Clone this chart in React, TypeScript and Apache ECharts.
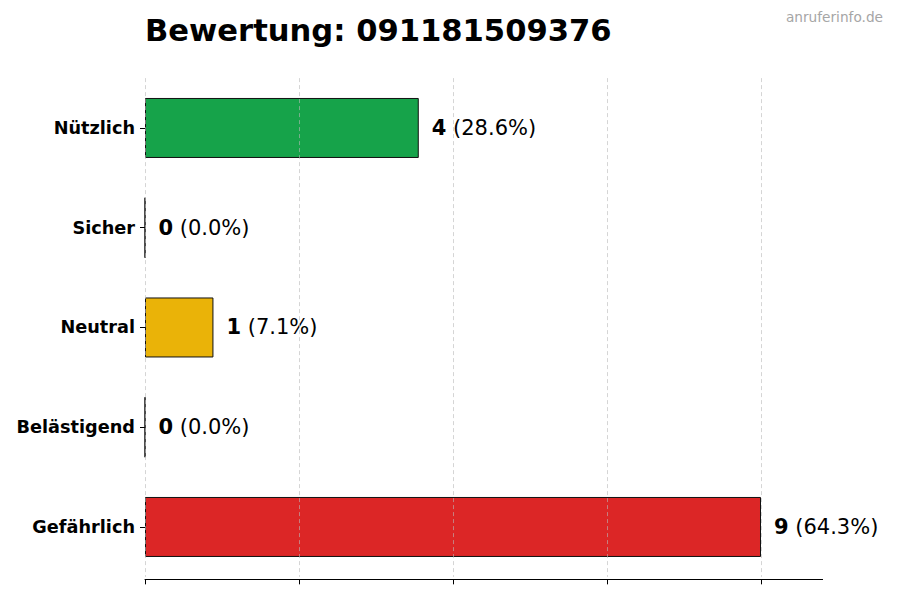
import React, { useEffect, useRef } from "react";
import * as echarts from "echarts";

const categories = ["Nützlich", "Sicher", "Neutral", "Belästigend", "Gefährlich"];
const counts = [4, 0, 1, 0, 9];
const percents = ["28.6%", "0.0%", "7.1%", "0.0%", "64.3%"];
const barColors = ["#16a34a", "#16a34a", "#eab308", "#f97316", "#dc2626"];
const gridTicks = [0, 2.25, 4.5, 6.75, 9];
const titleText = "Bewertung: 091181509376";
const watermark = "anruferinfo.de";

const FONT = "'DejaVu Sans', sans-serif";

export default function App() {
  const ref = useRef<HTMLDivElement>(null);
  useEffect(() => {
    if (!ref.current) return;
    const chart = echarts.init(ref.current, null, { renderer: "svg" });
    chart.setOption({
      animation: false,
      backgroundColor: "#ffffff",
      title: {
        text: titleText,
        left: 145,
        top: 15,
        padding: 0,
        textStyle: { fontFamily: FONT, fontSize: 30.6, fontWeight: "bold", color: "#000" },
      },
      graphic: [
        {
          type: "text",
          right: 17,
          top: 10,
          style: { text: watermark, fontFamily: FONT, fontSize: 13.7, fill: "#a6a6a6" },
        },
      ],
      grid: { left: 145, right: 77.4, top: 78.1, height: 498.75, containLabel: false },
      xAxis: {
        type: "value",
        min: 0,
        max: 9.9,
        interval: 2.25,
        offset: 2.5,
        axisLine: { show: true, lineStyle: { color: "#000", width: 1 } },
        axisTick: { show: true, length: 5, customValues: gridTicks, lineStyle: { color: "#000" } },
        axisLabel: { show: false },
        splitLine: { show: false },
      },
      yAxis: {
        type: "category",
        data: categories,
        inverse: true,
        axisLine: { show: false },
        axisTick: { show: true, length: 5, alignWithLabel: true, lineStyle: { color: "#000" } },
        axisLabel: {
          margin: 10,
          fontFamily: FONT,
          fontSize: 17.7,
          fontWeight: "bold",
          color: "#000",
        },
        splitLine: { show: false },
      },
      series: [
        {
          type: "bar",
          barWidth: 60,
          data: counts.map((v, i) => ({
            value: v,
            itemStyle: { color: barColors[i], borderColor: "#111", borderWidth: 1 },
          })),
          label: {
            show: true,
            position: "right",
            distance: 13,
            formatter: (p: any) => `{b|${counts[p.dataIndex]}}{n| (${percents[p.dataIndex]})}`,
            rich: {
              b: { fontFamily: FONT, fontSize: 21, fontWeight: "bold", color: "#000" },
              n: { fontFamily: FONT, fontSize: 21, color: "#000" },
            },
          },
          markLine: {
            silent: true,
            symbol: "none",
            label: { show: false },
            lineStyle: { type: [4, 3], color: "rgba(185,185,185,0.6)", width: 1 },
            data: gridTicks.map((t) => ({ xAxis: t })),
          },
        },
      ],
    });
    return () => chart.dispose();
  }, []);
  return <div ref={ref} style={{ width: 900, height: 600, margin: -8 }} />;
}
